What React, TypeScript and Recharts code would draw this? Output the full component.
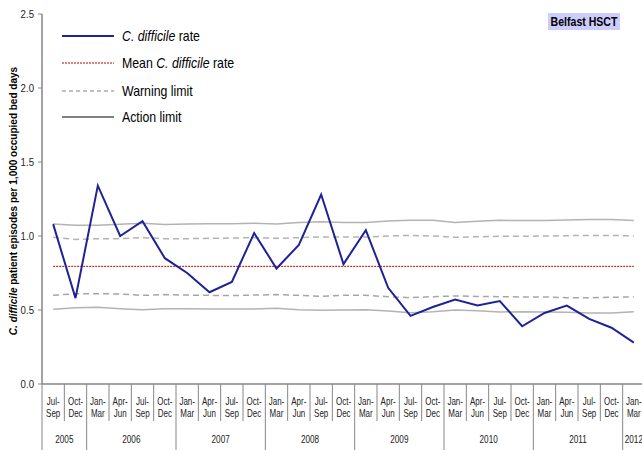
import React from 'react';
import { LineChart, Line, XAxis, YAxis, Label } from 'recharts';

// ---------- data ----------
const QUARTERS = [
  'Jul-Sep', 'Oct-Dec',
  'Jan-Mar', 'Apr-Jun', 'Jul-Sep', 'Oct-Dec',
  'Jan-Mar', 'Apr-Jun', 'Jul-Sep', 'Oct-Dec',
  'Jan-Mar', 'Apr-Jun', 'Jul-Sep', 'Oct-Dec',
  'Jan-Mar', 'Apr-Jun', 'Jul-Sep', 'Oct-Dec',
  'Jan-Mar', 'Apr-Jun', 'Jul-Sep', 'Oct-Dec',
  'Jan-Mar', 'Apr-Jun', 'Jul-Sep', 'Oct-Dec',
  'Jan-Mar',
];
const YEARS = [
  '2005', '2005',
  '2006', '2006', '2006', '2006',
  '2007', '2007', '2007', '2007',
  '2008', '2008', '2008', '2008',
  '2009', '2009', '2009', '2009',
  '2010', '2010', '2010', '2010',
  '2011', '2011', '2011', '2011',
  '2012',
];
const CDIFF_RATE = [
  1.08, 0.58, 1.34, 1.0, 1.1, 0.85, 0.75, 0.62, 0.69, 1.02, 0.78, 0.94, 1.28,
  0.81, 1.04, 0.65, 0.46, 0.52, 0.57, 0.53, 0.56, 0.39, 0.48, 0.53, 0.44, 0.38, 0.28,
];
const MEAN_RATE = 0.795;
const UPPER_ACTION = [
  1.081, 1.072, 1.072, 1.079, 1.086, 1.077, 1.081, 1.083, 1.083, 1.086, 1.081, 1.092, 1.097,
  1.092, 1.092, 1.101, 1.106, 1.106, 1.092, 1.099, 1.106, 1.104, 1.104, 1.108, 1.112, 1.112, 1.104,
];
const UPPER_WARNING = [
  0.991, 0.977, 0.982, 0.982, 0.989, 0.982, 0.982, 0.984, 0.986, 0.989, 0.984, 0.989, 0.993,
  0.993, 0.993, 1.0, 1.004, 1.0, 0.991, 0.995, 0.998, 0.998, 1.0, 1.002, 1.004, 1.004, 1.0,
];
const LOWER_WARNING = [
  0.599, 0.61, 0.61, 0.608, 0.599, 0.604, 0.601, 0.599, 0.597, 0.601, 0.604, 0.599, 0.592,
  0.599, 0.599, 0.59, 0.583, 0.59, 0.595, 0.592, 0.59, 0.588, 0.588, 0.583, 0.583, 0.586, 0.588,
];
const LOWER_ACTION = [
  0.505, 0.516, 0.518, 0.509, 0.502, 0.509, 0.509, 0.507, 0.507, 0.507, 0.511, 0.502, 0.498,
  0.5, 0.502, 0.493, 0.482, 0.489, 0.5, 0.495, 0.486, 0.489, 0.486, 0.484, 0.48, 0.48, 0.489,
];
const Y_TICKS = [0, 0.5, 1, 1.5, 2, 2.5];
const TRUST = 'Belfast HSCT';

const data = QUARTERS.map((q, i) => ({
  period: `${q} ${YEARS[i]}`,
  rate: CDIFF_RATE[i],
  mean: MEAN_RATE,
  ua: UPPER_ACTION[i],
  uw: UPPER_WARNING[i],
  lw: LOWER_WARNING[i],
  la: LOWER_ACTION[i],
}));

// ---------- layout ----------
const FONT = "'Liberation Sans', Arial, sans-serif";
const CHART_W = 660;
const CHART_H = 454;
const MARGIN = { top: 14, right: 15, bottom: 10, left: 0 };
const Y_AXIS_W = 42;
const X_AXIS_H = 60;
const PLOT_W = CHART_W - MARGIN.left - MARGIN.right - Y_AXIS_W;
const BAND = PLOT_W / QUARTERS.length;
const AXIS_GREY = '#868686';
const TEXT = '#222';
const SX = 0.8; // horizontal squeeze of small labels

const yearGroups: Record<string, number[]> = {};
YEARS.forEach((y, i) => {
  (yearGroups[y] = yearGroups[y] || []).push(i);
});

const XTick = (props: any) => {
  const { x, y, payload } = props;
  const idx = typeof props.index === 'number' ? props.index : data.findIndex((d) => d.period === payload.value);
  const [a, b] = QUARTERS[idx].split('-');
  const year = YEARS[idx];
  const group = yearGroups[year];
  const isYearStart = group[0] === idx;
  const left = x - BAND / 2;
  const els: any[] = [];
  els.push(
    <line key="sep" x1={left} x2={left} y1={y} y2={y + (isYearStart ? 66 : 37)} stroke={AXIS_GREY} strokeWidth={1} />
  );
  if (idx === QUARTERS.length - 1) {
    els.push(<line key="end" x1={x + BAND / 2} x2={x + BAND / 2} y1={y} y2={y + 66} stroke={AXIS_GREY} />);
  }
  els.push(
    <g key="l1" transform={`translate(${x},${y + 20.5}) scale(${SX},1)`}>
      <text x={0} y={0} textAnchor="middle" fontSize={10} fontFamily={FONT} fill={TEXT}>
        {a + '-'}
      </text>
    </g>
  );
  els.push(
    <g key="l2" transform={`translate(${x},${y + 32.5}) scale(${SX},1)`}>
      <text x={0} y={0} textAnchor="middle" fontSize={10} fontFamily={FONT} fill={TEXT}>
        {b}
      </text>
    </g>
  );
  if (isYearStart) {
    const cx = left + (group.length * BAND) / 2;
    els.push(
      <g key="yr" transform={`translate(${cx},${y + 59}) scale(0.78,1)`}>
        <text x={0} y={0} textAnchor="middle" fontSize={10.5} fontFamily={FONT} fill={TEXT}>
          {year}
        </text>
      </g>
    );
  }
  return <g>{els}</g>;
};

const YTick = (props: any) => {
  const { x, y, payload } = props;
  return (
    <g transform={`translate(${x},${y}) scale(0.92,1)`}>
      <text x={0} y={0} dy={3.5} textAnchor="end" fontSize={10.5} fontFamily={FONT} fill={TEXT}>
        {Number(payload.value).toFixed(1)}
      </text>
    </g>
  );
};

const YLabel = () => (
  <text
    transform="translate(17,201) rotate(-90)"
    textAnchor="middle"
    fontSize={10}
    fontWeight="bold"
    fontFamily={FONT}
    fill="#000"
  >
    <tspan fontStyle="italic">C. difficile</tspan>
    <tspan> patient episodes per 1,000 occupied bed days</tspan>
  </text>
);

const legendItems = [
  { key: 'rate', stroke: '#1f2296', width: 2, dash: undefined, italicPre: '', italic: 'C. difficile', post: ' rate', y: 36 },
  { key: 'mean', stroke: '#c00000', width: 1, dash: '2 1', italicPre: 'Mean ', italic: 'C. difficile', post: ' rate', y: 63 },
  { key: 'warn', stroke: '#808080', width: 1, dash: '4 3', italicPre: 'Warning limit', italic: '', post: '', y: 91 },
  { key: 'act', stroke: '#000', width: 1, dash: undefined, italicPre: 'Action limit', italic: '', post: '', y: 117 },
];

export default function App() {
  return (
    <div
      style={{
        position: 'absolute',
        left: 0,
        top: 0,
        width: 642,
        height: 454,
        overflow: 'hidden',
        background: '#fff',
      }}
    >
      <LineChart width={CHART_W} height={CHART_H} data={data} margin={MARGIN}>
        <XAxis
          dataKey="period"
          scale="band"
          interval={0}
          tick={<XTick />}
          tickLine={false}
          tickSize={0}
          tickMargin={0}
          height={X_AXIS_H}
          axisLine={{ stroke: AXIS_GREY, strokeWidth: 1.5 }}
        />
        <YAxis
          width={Y_AXIS_W}
          domain={[0, 2.5]}
          ticks={Y_TICKS}
          interval={0}
          tick={<YTick />}
          tickSize={4}
          tickMargin={4}
          tickLine={{ stroke: AXIS_GREY }}
          axisLine={{ stroke: AXIS_GREY, strokeWidth: 1.5 }}
        >
          <Label content={<YLabel />} />
        </YAxis>
        <Line dataKey="ua" stroke="#b3b3b3" strokeWidth={1.5} dot={false} isAnimationActive={false} />
        <Line dataKey="la" stroke="#b3b3b3" strokeWidth={1.5} dot={false} isAnimationActive={false} />
        <Line dataKey="uw" stroke="#b3b3b3" strokeWidth={1.5} strokeDasharray="6 4" dot={false} isAnimationActive={false} />
        <Line dataKey="lw" stroke="#a6a6a6" strokeWidth={1.5} strokeDasharray="6 4" dot={false} isAnimationActive={false} />
        <Line dataKey="mean" stroke="#c00000" strokeWidth={1} strokeDasharray="2 1" dot={false} isAnimationActive={false} />
        <Line dataKey="rate" stroke="#1f2296" strokeWidth={2} dot={false} isAnimationActive={false} />
      </LineChart>

      <svg width={642} height={454} style={{ position: 'absolute', left: 0, top: 0, pointerEvents: 'none' }}>
        {legendItems.map((it) => (
          <g key={it.key}>
            <line x1={62} x2={114} y1={it.y} y2={it.y} stroke={it.stroke} strokeWidth={it.width} strokeDasharray={it.dash} />
            <g transform={`translate(122,${it.y + 5}) scale(0.88,1)`}>
              <text x={0} y={0} fontSize={14} fontFamily={FONT} fill="#000">
                {it.italicPre ? <tspan>{it.italicPre}</tspan> : null}
                {it.italic ? <tspan fontStyle="italic">{it.italic}</tspan> : null}
                {it.post ? <tspan>{it.post}</tspan> : null}
              </text>
            </g>
          </g>
        ))}
        <rect x={548} y={13} width={72} height={17} fill="#ccccff" />
        <g transform="translate(584,26) scale(0.88,1)">
          <text x={0} y={0} textAnchor="middle" fontSize={12} fontWeight="bold" fontFamily={FONT} fill="#000">
            {TRUST}
          </text>
        </g>
      </svg>
    </div>
  );
}
